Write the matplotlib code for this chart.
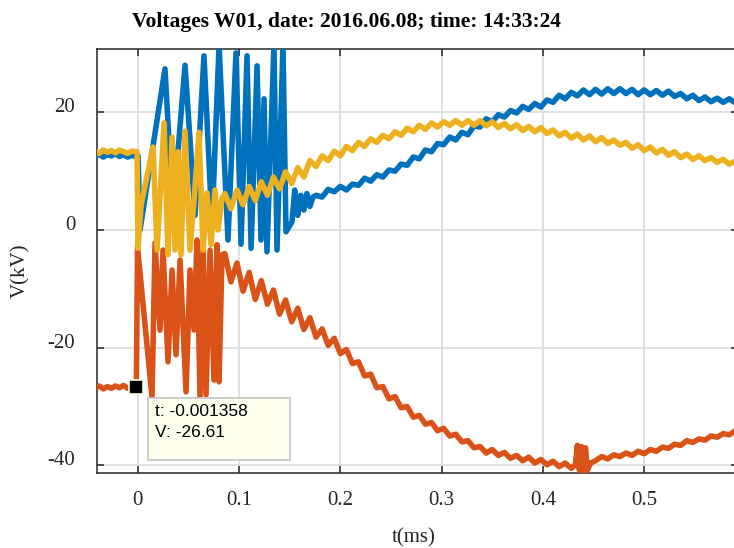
import matplotlib
matplotlib.use("Agg")
import matplotlib.pyplot as plt
from matplotlib.patches import Rectangle

# ---------------- data (t in ms, V in kV) ----------------
blue_t = [-0.042, -0.038, -0.034, -0.030, -0.026, -0.022, -0.018, -0.014, -0.010, -0.006, -0.002, 0.0003,
          0.0023, 0.0269, 0.0348, 0.0467, 0.0566, 0.0654, 0.0733, 0.0803, 0.0891, 0.0970, 0.1020,
          0.1079, 0.1119, 0.1178, 0.1217, 0.1247, 0.1276, 0.1345, 0.1375, 0.1434, 0.1464, 0.1523,
          0.155, 0.158, 0.161, 0.164, 0.167, 0.170, 0.173,
          0.176, 0.182, 0.188, 0.194, 0.200, 0.206, 0.212, 0.218, 0.224, 0.230, 0.236, 0.242,
          0.248, 0.254, 0.260, 0.266, 0.272, 0.278, 0.284, 0.290, 0.296, 0.302, 0.308, 0.314,
          0.320, 0.326, 0.332, 0.338, 0.344, 0.350, 0.356, 0.362, 0.368, 0.374, 0.380, 0.386,
          0.392, 0.398, 0.404, 0.410, 0.416, 0.422, 0.428, 0.434, 0.440, 0.446, 0.452, 0.458,
          0.464, 0.470, 0.476, 0.482, 0.488, 0.494, 0.500, 0.506, 0.512, 0.518, 0.524, 0.530,
          0.536, 0.542, 0.548, 0.554, 0.560, 0.566, 0.572, 0.578, 0.584, 0.590, 0.596]
blue_v = [12.5, 12.9, 12.4, 12.8, 12.6, 13.0, 12.5, 12.8, 12.4, 12.7, 12.5, 12.6,
          0.0, 27.4, 3.0, 28.0, 2.5, 29.6, 1.0, 31.4, -1.7, 30.1, -2.4,
          29.6, -3.1, 27.9, -1.7, 22.3, -3.7, 31.4, -3.4, 31.4, -0.3, 1.4,
          6.8, 2.5, 5.9, 3.4, 6.2, 4.0, 5.6,
          5.9, 5.6, 6.9, 6.5, 7.4, 6.8, 7.8, 7.6, 8.8, 8.3, 9.4, 9.0,
          10.2, 10.0, 11.2, 11.0, 12.4, 12.1, 13.6, 13.3, 14.7, 14.5, 15.8, 15.3,
          16.6, 16.2, 17.7, 17.5, 18.9, 18.4, 19.6, 19.2, 20.3, 19.9, 21.0, 20.5,
          21.5, 20.9, 22.1, 21.7, 22.9, 22.3, 23.4, 22.8, 23.8, 23.0, 23.9, 23.1,
          24.0, 23.2, 24.0, 23.2, 23.9, 23.0, 23.8, 23.0, 23.7, 22.9, 23.6, 22.7,
          23.2, 22.3, 22.9, 22.0, 22.6, 21.8, 22.4, 21.7, 22.3, 21.6, 22.1]

orange_t = [-0.042, -0.038, -0.034, -0.030, -0.026, -0.022, -0.018, -0.014, -0.010, -0.006, -0.001358,
            -0.0002, 0.0141, 0.0171, 0.0220, 0.0250, 0.0299, 0.0339, 0.0378, 0.0418, 0.0477, 0.0516,
            0.0556, 0.0585, 0.0615, 0.0645, 0.0674, 0.0714, 0.0753, 0.0783, 0.0803, 0.0832,
            0.086, 0.092, 0.098, 0.104, 0.110, 0.116, 0.122, 0.128, 0.134, 0.140, 0.146, 0.152,
            0.158, 0.164, 0.170, 0.176, 0.182, 0.188, 0.194, 0.200, 0.206, 0.212, 0.218, 0.224,
            0.230, 0.236, 0.242, 0.248, 0.254, 0.260, 0.266, 0.272, 0.278, 0.284, 0.290, 0.296,
            0.302, 0.308, 0.314, 0.320, 0.326, 0.332, 0.338, 0.344, 0.350, 0.356, 0.362, 0.368,
            0.374, 0.380, 0.386, 0.392, 0.398, 0.404, 0.410, 0.416, 0.422, 0.428,
            0.432, 0.434, 0.436, 0.438, 0.440, 0.442, 0.444, 0.447,
            0.452, 0.458, 0.464, 0.470, 0.476, 0.482, 0.488, 0.494, 0.500, 0.506, 0.512, 0.518,
            0.524, 0.530, 0.536, 0.542, 0.548, 0.554, 0.560, 0.566, 0.572, 0.578, 0.584, 0.590, 0.596]
orange_v = [-26.9, -26.5, -27.0, -26.6, -26.9, -26.5, -26.8, -26.4, -26.9, -26.6, -26.61,
            -2.9, -28.4, -2.2, -17.0, -3.4, -22.4, -6.8, -21.2, -5.1, -27.5, -6.8,
            -17.0, -1.7, -28.5, -2.5, -28.0, -3.4, -25.5, -2.5, -25.8, -4.2,
            -4.0, -8.8, -5.6, -10.4, -7.2, -11.8, -8.6, -12.6, -10.2, -14.3, -11.9, -15.6,
            -13.3, -16.9, -14.9, -18.2, -16.8, -19.6, -18.4, -21.0, -20.3, -22.7, -22.4, -24.8,
            -24.5, -26.8, -26.6, -28.7, -28.3, -30.2, -30.0, -31.8, -31.5, -33.0, -32.7, -34.1,
            -33.7, -35.0, -34.7, -36.0, -35.8, -37.0, -36.8, -37.9, -37.3, -38.3, -37.8, -38.8,
            -38.3, -39.2, -38.6, -39.6, -39.0, -39.9, -39.3, -40.2, -39.6, -40.5,
            -39.9, -36.6, -40.8, -36.8, -40.9, -37.0, -40.8, -39.6,
            -39.2, -38.5, -38.9, -38.2, -38.5, -37.9, -38.3, -37.6, -38.0, -37.3, -37.6, -36.9,
            -37.1, -36.4, -36.6, -35.8, -36.1, -35.5, -35.7, -35.0, -35.2, -34.6, -34.8, -34.1, -34.3]

yellow_t = [-0.042, -0.038, -0.034, -0.030, -0.026, -0.022, -0.018, -0.014, -0.010, -0.006, -0.0007,
            0.0003, 0.0033, 0.0151, 0.0191, 0.0260, 0.0299, 0.0339, 0.0368, 0.0398, 0.0427, 0.0467,
            0.0516, 0.0556, 0.0605, 0.0645, 0.0684, 0.0724, 0.0763, 0.0793, 0.0832,
            0.086, 0.092, 0.098, 0.104, 0.110, 0.116, 0.122, 0.128, 0.134, 0.140, 0.146, 0.152,
            0.158, 0.164, 0.170, 0.176, 0.182, 0.188, 0.194, 0.200, 0.206, 0.212, 0.218, 0.224,
            0.230, 0.236, 0.242, 0.248, 0.254, 0.260, 0.266, 0.272, 0.278, 0.284, 0.290, 0.296,
            0.302, 0.308, 0.314, 0.320, 0.326, 0.332, 0.338, 0.344, 0.350, 0.356, 0.362, 0.368,
            0.374, 0.380, 0.386, 0.392, 0.398, 0.404, 0.410, 0.416, 0.422, 0.428, 0.434, 0.440,
            0.446, 0.452, 0.458, 0.464, 0.470, 0.476, 0.482, 0.488, 0.494, 0.500, 0.506, 0.512,
            0.518, 0.524, 0.530, 0.536, 0.542, 0.548, 0.554, 0.560, 0.566, 0.572, 0.578, 0.584,
            0.590, 0.596]
yellow_v = [13.4, 13.0, 13.6, 13.2, 13.5, 13.1, 13.6, 13.3, 13.0, 13.4, 13.3,
            -3.1, 4.2, 14.1, -3.4, 18.2, -4.2, 15.8, -3.4, 13.3, -4.2, 16.8,
            -3.4, 5.1, 16.6, -3.4, 6.3, -2.5, 6.8, 0.0, 5.4,
            6.2, 3.6, 6.8, 4.3, 7.4, 5.0, 8.2, 5.9, 9.0, 7.0, 9.9, 7.9,
            10.6, 9.0, 11.8, 10.8, 12.6, 11.8, 13.4, 12.6, 14.2, 13.5, 14.9, 14.2,
            15.5, 14.9, 16.1, 15.5, 16.7, 16.1, 17.3, 16.7, 17.8, 17.1, 18.2, 17.5,
            18.4, 17.8, 18.6, 17.8, 18.6, 17.8, 18.6, 17.7, 18.4, 17.4, 18.1, 17.2,
            17.9, 16.9, 17.6, 16.7, 17.4, 16.4, 17.0, 16.0, 16.6, 15.6, 16.3, 15.3,
            16.0, 15.0, 15.7, 14.7, 15.3, 14.4, 14.9, 13.9, 14.5, 13.5, 14.1, 13.1,
            13.7, 12.7, 13.3, 12.3, 12.9, 12.0, 12.6, 11.8, 12.3, 11.5, 12.0, 11.2,
            11.7, 11.1]

x_ticks = [0, 0.1, 0.2, 0.3, 0.4, 0.5]
x_ticklabels = ["0", "0.1", "0.2", "0.3", "0.4", "0.5"]
y_ticks = [-40, -20, 0, 20]
y_ticklabels = ["-40", "-20", "0", "20"]

tip_t = -0.001358
tip_v = -26.61

title = "Voltages W01, date: 2016.06.08; time: 14:33:24"

# ---------------- figure ----------------
W, H = 734, 548
fig = plt.figure(figsize=(W / 100, H / 100), dpi=100)
L, R, T, B = 96.7, 738.0, 49.0, 472.7
ax = fig.add_axes([L / W, 1 - B / H, (R - L) / W, (B - T) / H])

serif = "Liberation Serif"
lw = 4.0
ax.plot(blue_t, blue_v, color="#0072BD", lw=lw, zorder=3)
ax.plot(orange_t, orange_v, color="#D95319", lw=lw, zorder=4)
ax.plot(yellow_t, yellow_v, color="#EDB120", lw=lw, zorder=5)

ax.set_xlim(-0.0405, 0.5926)
ax.set_ylim(-41.24, 30.76)
ax.set_xticks(x_ticks)
ax.set_xticklabels(x_ticklabels, fontfamily=serif)
ax.set_yticks(y_ticks)
ax.set_yticklabels(y_ticklabels, fontfamily=serif, va="baseline")

ax.grid(True, color="#dcdcdc", lw=1.2)
ax.set_axisbelow(True)
for s in ax.spines.values():
    s.set_color("#262626")
    s.set_linewidth(1.1)
ax.tick_params(direction="in", length=5, width=1.1, color="#262626",
               top=True, right=True, labelsize=15, labelcolor="#262626")
ax.tick_params(axis="x", pad=13)
ax.tick_params(axis="y", pad=15.5)

fig.text(346 / W, 1 - 22 / H, title, ha="center", va="center",
         fontsize=15.5, fontweight="bold", family=serif, color="black")
fig.text(414 / W, 1 - 538 / H, "t(ms)", ha="center", va="center",
         fontsize=15, family=serif, color="#262626")
fig.text(21 / W, 1 - 271 / H, "V(kV)", ha="center", va="center", rotation=90,
         fontsize=15, family=serif, color="#262626")

# data tip
ax.plot([tip_t], [tip_v], marker="s", ms=10.5, mfc="black", mec="#fbfbe0",
        mew=1.2, zorder=8, clip_on=False)
fig.canvas.draw()
px, py = ax.transData.transform((tip_t, tip_v))
box = Rectangle((px + 11.7, py - 11.4 - 62), 142, 62, transform=None,
                facecolor="#ffffee", edgecolor="#c8c8c8", lw=1.3, zorder=9)
fig.add_artist(box)
fig.text((px + 19) / W, (py - 35) / H, "t: -0.001358\nV: -26.61",
         ha="left", va="center", fontsize=12.5, family="Liberation Sans",
         color="black", linespacing=1.5, zorder=10)

fig.savefig("out.png", dpi=100)
